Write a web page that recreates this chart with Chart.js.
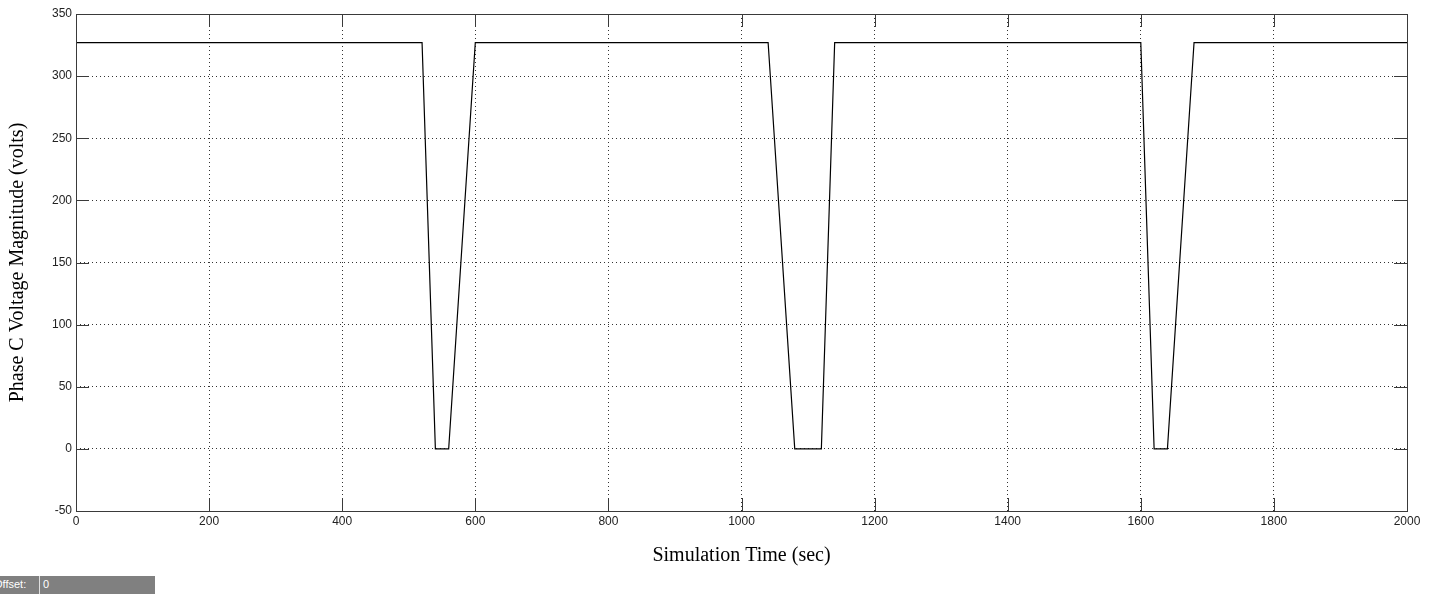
<!DOCTYPE html>
<html>
<head>
<meta charset="utf-8">
<script src="https://cdn.jsdelivr.net/npm/chart.js@4/dist/chart.umd.min.js"></script>
<style>
  body { margin: 0; background: #fff; }
  #wrap { position: relative; width: 1434px; height: 594px; }
  #offsetBar { position: absolute; left: 0; top: 576px; height: 18px; width: 155px; background: #808080; font: 11px Arial, "Liberation Sans", sans-serif; color: #fff; }
  #offsetBar span { position: absolute; top: 2px; }
  #offsetBar .div { position: absolute; left: 39px; top: 0; width: 1px; height: 18px; background: #e0e0e0; }
</style>
</head>
<body>
<div id="wrap">
  <canvas id="myChart" width="1434" height="594"></canvas>
  <div id="offsetBar"><span style="left:-6px">Offset:</span><div class="div"></div><span style="left:43px">0</span></div>
</div>
<script>
/* Phase C voltage sag data */
let times = [0, 520, 540, 560, 600, 1040, 1080, 1120, 1140, 1600, 1620, 1640, 1680, 2000];
let volts = [327, 327, 0, 0, 327, 327, 0, 0, 327, 327, 0, 0, 327, 327];
let xTicks = [0, 200, 400, 600, 800, 1000, 1200, 1400, 1600, 1800, 2000];
let yTicks = [-50, 0, 50, 100, 150, 200, 250, 300, 350];

let points = [];
for(let i = 0; i < times.length; i++){
    points.push({x: times[i], y: volts[i]});
}

// matlab style box and inward ticks
const boxPlugin = {
    id: 'boxPlugin',
    afterDraw(chart){
        const ctx = chart.ctx;
        const a = chart.chartArea;
        const xs = chart.scales.x, ys = chart.scales.y;
        ctx.save();
        ctx.strokeStyle = '#3a3a3a';
        ctx.lineWidth = 1;
        ctx.strokeRect(Math.round(a.left) + 0.5, Math.round(a.top) + 0.5, Math.round(a.right - a.left), Math.round(a.bottom - a.top));
        ctx.beginPath();
        xTicks.forEach(v => {
            let px = Math.round(xs.getPixelForValue(v)) + 0.5;
            ctx.moveTo(px, a.bottom); ctx.lineTo(px, a.bottom - 13);
            ctx.moveTo(px, a.top); ctx.lineTo(px, a.top + 13);
        });
        yTicks.forEach(v => {
            let py = Math.round(ys.getPixelForValue(v)) + 0.5;
            ctx.moveTo(a.left, py); ctx.lineTo(a.left + 13, py);
            ctx.moveTo(a.right, py); ctx.lineTo(a.right - 13, py);
        });
        ctx.stroke();
        ctx.restore();
    }
};

let data = {
    datasets: [{
        label: 'Phase C',
        data: points,
        borderColor: '#000',
        borderWidth: 1.2,
        pointRadius: 0,
        tension: 0,
        fill: false
    }]
};

let config = {
    type: 'line',
    data: data,
    options: {
        responsive: false,
        animation: false,
        layout: { padding: { top: 14, right: 27, left: 0, bottom: 0 } },
        plugins: { legend: { display: false }, tooltip: { enabled: false } },
        scales: {
            x: {
                type: 'linear',
                min: 0, max: 2000,
                afterBuildTicks: s => { s.ticks = xTicks.map(v => ({value: v})); },
                afterFit: s => { s.height = 83; },
                grid: { color: '#333', drawTicks: false, lineWidth: 1 },
                border: { display: false, dash: [1, 3] },
                ticks: { color: '#222', font: { family: 'Arial, "Liberation Sans"', size: 12 }, padding: 3, maxRotation: 0,
                    callback: v => String(v) },
                title: { display: true, text: 'Simulation Time (sec)', color: '#000',
                    font: { family: '"Times New Roman", "Liberation Serif"', size: 20 }, padding: { top: 0, bottom: 26 } }
            },
            y: {
                min: -50, max: 350,
                afterBuildTicks: s => { s.ticks = yTicks.map(v => ({value: v})); },
                afterFit: s => { s.width = 76; },
                grid: { color: '#333', drawTicks: false, lineWidth: 1 },
                border: { display: false, dash: [1, 3] },
                ticks: { color: '#222', font: { family: 'Arial, "Liberation Sans"', size: 12 }, padding: 4,
                    callback: v => String(v) },
                title: { display: true, text: 'Phase C Voltage Magnitude (volts)', color: '#000',
                    font: { family: '"Times New Roman", "Liberation Serif"', size: 20 }, padding: { top: 6, bottom: 0 } }
            }
        }
    },
    plugins: [boxPlugin]
};

let myChart = new Chart(document.getElementById('myChart').getContext('2d'), config);
</script>
</body>
</html>
